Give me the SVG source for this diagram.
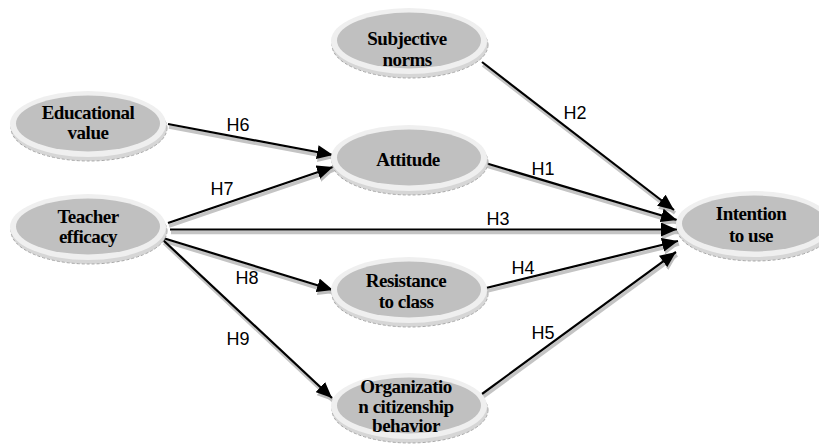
<svg xmlns="http://www.w3.org/2000/svg" xmlns:xlink="http://www.w3.org/1999/xlink" width="819" height="444" viewBox="0 0 819 444">
<style>
.lbl{font-family:"Liberation Serif","Times New Roman",serif;font-weight:bold;font-size:19px;letter-spacing:-0.5px;text-anchor:middle;fill:#000}
.elbl{font-family:"Liberation Sans",Arial,sans-serif;font-size:18px;text-anchor:middle;fill:#000}
.edge{stroke:#000;stroke-width:2.2;fill:none;marker-end:url(#ah)}
.shadow{stroke:#c4c4c4;stroke-width:3.5;fill:none;marker-end:url(#ahs)}
</style>
<defs>
<marker id="ah" markerUnits="userSpaceOnUse" markerWidth="18" markerHeight="14" refX="16" refY="7" orient="auto">
<path d="M0,0 L16,7 L0,14 Z" fill="#000"/>
</marker>
<marker id="ahs" markerUnits="userSpaceOnUse" markerWidth="18" markerHeight="14" refX="16" refY="7" orient="auto">
<path d="M0,0 L16,7 L0,14 Z" fill="#bdbdbd"/>
</marker>
<g id="shape">
<ellipse cx="1" cy="4" rx="78" ry="33" fill="#d6d6d6" stroke="#a8a8a8" stroke-width="1" stroke-dasharray="3 2"/>
<ellipse cx="0" cy="0" rx="78" ry="33" fill="#efefef"/>
<ellipse cx="0" cy="-0.5" rx="72" ry="28" fill="#c0c0c0"/>
</g>
</defs>
<rect width="819" height="444" fill="#fff"/>

<g id="connectors">
<g transform="translate(1,3)">
<path class="shadow" d="M168,124 L333,155"/>
<path class="shadow" d="M168,223 L333,167"/>
<path class="shadow" d="M170,229.5 L677,229.5"/>
<path class="shadow" d="M163,238 L333,290"/>
<path class="shadow" d="M163,240 L332,398"/>
<path class="shadow" d="M482,62 L674,210"/>
<path class="shadow" d="M482,162 L677,220"/>
<path class="shadow" d="M482,289 L678,241"/>
<path class="shadow" d="M482,394 L676,252"/>
</g>
<path class="edge" d="M168,124 L333,155"/>
<path class="edge" d="M168,223 L333,167"/>
<path class="edge" d="M170,229.5 L677,229.5"/>
<path class="edge" d="M163,238 L333,290"/>
<path class="edge" d="M163,240 L332,398"/>
<path class="edge" d="M482,62 L674,210"/>
<path class="edge" d="M482,162 L677,220"/>
<path class="edge" d="M482,289 L678,241"/>
<path class="edge" d="M482,394 L676,252"/>
<text class="elbl" x="238" y="131">H6</text>
<text class="elbl" x="222" y="195">H7</text>
<text class="elbl" x="498" y="225">H3</text>
<text class="elbl" x="247" y="284">H8</text>
<text class="elbl" x="238" y="345">H9</text>
<text class="elbl" x="575" y="119">H2</text>
<text class="elbl" x="543" y="175">H1</text>
<text class="elbl" x="523" y="274">H4</text>
<text class="elbl" x="543" y="339">H5</text>
</g>

<g id="subjective-norms">
<use xlink:href="#shape" transform="translate(409,41)"/>
<text class="lbl" x="407" y="45">Subjective</text>
<text class="lbl" x="407" y="66">norms</text>
</g>
<g id="educational-value">
<use xlink:href="#shape" transform="translate(88,124)"/>
<text class="lbl" x="88" y="119">Educational</text>
<text class="lbl" x="88" y="139">value</text>
</g>
<g id="attitude">
<use xlink:href="#shape" transform="translate(409,158)"/>
<text class="lbl" x="408" y="166">Attitude</text>
</g>
<g id="teacher-efficacy">
<use xlink:href="#shape" transform="translate(88,227)"/>
<text class="lbl" x="88" y="223">Teacher</text>
<text class="lbl" x="88" y="243">efficacy</text>
</g>
<g id="resistance-to-class">
<use xlink:href="#shape" transform="translate(409,290)"/>
<text class="lbl" x="406" y="287">Resistance</text>
<text class="lbl" x="406" y="308">to class</text>
</g>
<g id="organization-citizenship-behavior">
<use xlink:href="#shape" transform="translate(409,406)"/>
<text class="lbl" x="406" y="393">Organizatio</text>
<text class="lbl" x="406" y="413">n citizenship</text>
<text class="lbl" x="406" y="432">behavior</text>
</g>
<g id="intention-to-use">
<use xlink:href="#shape" transform="translate(754,224)"/>
<text class="lbl" x="751" y="220">Intention</text>
<text class="lbl" x="751" y="242">to use</text>
</g>
</svg>
